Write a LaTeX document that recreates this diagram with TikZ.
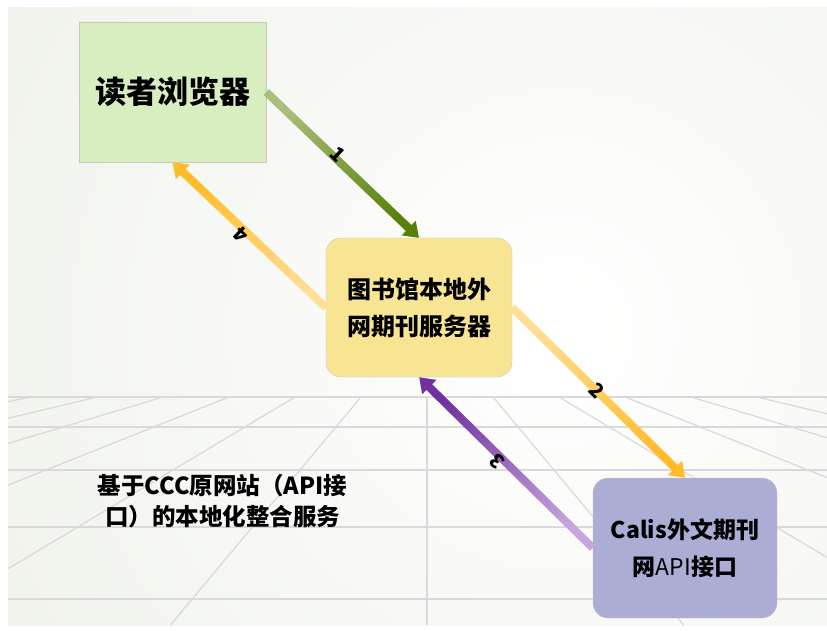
\documentclass[tikz,border=0pt]{standalone}
\usepackage{fontspec}
\setmainfont{Noto Sans CJK SC}
\usetikzlibrary{arrows.meta,fadings}

\definecolor{bgc}{RGB}{236,239,230}
\definecolor{gridc}{RGB}{217,217,217}
\definecolor{readerfill}{RGB}{216,237,192}
\definecolor{serverfill}{RGB}{248,229,148}
\definecolor{calisfill}{RGB}{172,173,212}
\definecolor{boxline}{RGB}{200,200,190}
\definecolor{greenlight}{RGB}{168,192,125}
\definecolor{greendark}{RGB}{88,128,8}
\definecolor{orangelight}{RGB}{255,222,150}
\definecolor{orangedark}{RGB}{255,188,40}
\definecolor{purplelight}{RGB}{200,165,220}
\definecolor{purpledark}{RGB}{112,48,160}

\tikzfading[name=fadetip, left color=transparent!100, right color=transparent!0]

\begin{document}
\begin{tikzpicture}[x=1pt, y=-1pt, every node/.style={align=center},
  box/.style={draw=boxline, inner sep=0pt},
  grid/.style={draw=gridc, line width=1.2pt},
  flow/.style n args={3}{draw=#1, line width=8pt, -{Triangle[width=19pt,length=14pt]},
    postaction={draw=#2, path fading=fadetip, fading angle=#3}},
  num/.style={sloped, allow upside down, font=\bfseries\fontsize{20}{20}\selectfont}]

% background and floor grid
\useasboundingbox[fill=white] (0,0) rectangle (827,631);
\fill[bgc] (8,8) rectangle (827,625);
\begin{scope}
\clip (8,8) rectangle (827,625);
\shade[inner color=white, outer color=bgc] (560,330) circle (820);
\foreach \y in {397,427,470,527,599}
  \draw[grid] (8,\y) -- (827,\y);
\foreach \k in {-9,...,9}
  \draw[grid] (427+66*\k,397) -- (427+66*\k*3.886,625);
\end{scope}

\node (reader) [box, fill=readerfill, minimum width=187pt, minimum height=140pt,
  font=\bfseries\fontsize{31}{31}\selectfont] at (172.5,92) {读者浏览器};
\node (server) [box, rounded corners=15pt, fill=serverfill, minimum width=186pt, minimum height=139pt,
  font=\bfseries\fontsize{24}{37}\selectfont] at (419,307.5) {图书馆本地外\\网期刊服务器};
\node (calis) [box, rounded corners=15pt, fill=calisfill, minimum width=184pt, minimum height=140pt,
  font=\fontsize{23}{37}\selectfont] at (685,548) {\textbf{Calis外文期刊}\\\textbf{网}API\textbf{接口}};
\node (note) [font=\bfseries\fontsize{23.5}{31}\selectfont] at (222.5,501.5) {基于CCC原网站（API接\\口）的本地化整合服务};

\draw[flow={greenlight}{greendark}{-45}] (reader.east) -- (server.north) node[num, pos=.45, yshift=5pt] {1};
\draw[flow={orangelight}{orangedark}{-44}] (server.east) -- (calis.north) node[num, pos=.49] {2};
\draw[flow={purplelight}{purpledark}{136}] (calis.west) -- (server.south) node[num, pos=.53, yshift=5pt] {3};
\draw[flow={orangelight}{orangedark}{136}] (server.west) -- (reader.south) node[num, pos=.53, yshift=5pt] {4};
\end{tikzpicture}
\end{document}
